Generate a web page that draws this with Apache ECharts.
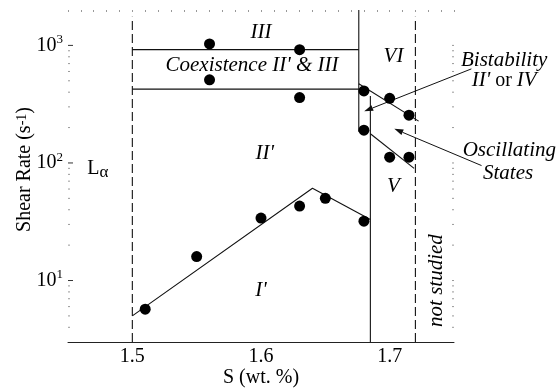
<!DOCTYPE html>
<html>
<head>
<meta charset="utf-8">
<script src="https://cdn.jsdelivr.net/npm/echarts@6/dist/echarts.min.js"></script>
<style>
  html, body { margin: 0; padding: 0; background: #fff; }
  #chart { width: 556px; height: 388px; }
</style>
</head>
<body>
<div id="chart"></div>
<script>
// Measured states: surfactant concentration S (wt. %) against shear rate (1/s)
const pointS    = [1.51, 1.55, 1.60, 1.63, 1.65, 1.68, 1.56, 1.63, 1.56, 1.63, 1.68, 1.70, 1.715, 1.68, 1.70, 1.715];
const pointRate = [5.7, 16, 34, 43, 50, 32, 1030, 920, 510, 360, 410, 355, 255, 190, 112, 112];

// Phase boundaries
const boundaryIS      = [1.5, 1.64, 1.685];
const boundaryIRate   = [5.0, 61, 33];
const coexTopS        = [1.5, 1.676];
const coexTopRate     = [920, 920];
const coexBottomS     = [1.5, 1.676];
const coexBottomRate  = [425, 425];
const wallAS          = [1.676, 1.676];
const wallARate       = [2000, 184];
const wallBS          = [1.685, 1.685];
const wallBRate       = [372, 3];
const slopeUpperS     = [1.676, 1.7225];
const slopeUpperRate  = [471, 227];
const slopeLowerS     = [1.685, 1.719];
const slopeLowerRate  = [177, 90];
const limitLeftS      = [1.5, 1.5];
const limitRightS     = [1.72, 1.72];
const limitRate       = [3, 1750];

// Region names
const labelText = [
  '{i|III}',
  "{i|Coexistence II' & III}",
  "{i|II'}",
  "{i|I'}",
  '{u|L}{sub|α}',
  '{i|VI}',
  '{i|V}',
  '{i|Bistability}',
  "{i|II'} {u|or} {i|IV}",
  '{i|Oscillating}',
  '{i|States}',
  '{i|not studied}'
];
const labelS    = [1.600, 1.593, 1.603, 1.600, 1.465, 1.703, 1.703, 1.789, 1.789, 1.793, 1.792, 1.7366];
const labelRate = [1300, 673, 120, 8.2, 89, 798, 62.6, 738, 499, 127, 81, 10];

// Pointer arrows: tail near a note, head at the marked state
const arrowTailS    = [1.7635, 1.7714];
const arrowTailRate = [631, 95];
const arrowHeadS    = [1.6802, 1.7036];
const arrowHeadRate = [275, 195];

// Axes
const S_MIN = 1.45, S_MAX = 1.75, S_STEP = 0.05, S_FINE = 0.01;
const RATE_MIN = 3, RATE_MAX = 2000;
const sTickLabels = [1.5, 1.6, 1.7];
const rateTickLabels = [10, 100, 1000];
const rateMinorTicks = [4, 5, 6, 7, 8, 9, 20, 30, 40, 50, 60, 70, 80, 90,
                        200, 300, 400, 500, 600, 700, 800, 900];

const FONT = '"Liberation Serif", "Times New Roman", serif';
const INK = '#111';

const pair = (xs, ys) => xs.map((x, i) => [x, ys[i]]);

function boundary(xs, ys, dashed) {
  return {
    type: 'line',
    data: pair(xs, ys),
    symbol: 'none',
    silent: true,
    z: 2,
    lineStyle: { color: INK, width: 1.1, type: dashed ? [9, 4] : 'solid' }
  };
}

const richStyles = {
  i:   { fontFamily: FONT, fontSize: 21, fontStyle: 'italic', fill: '#000', lineHeight: 24 },
  u:   { fontFamily: FONT, fontSize: 20, fontStyle: 'normal', fill: '#000', lineHeight: 24 },
  sub: { fontFamily: FONT, fontSize: 17, fontStyle: 'normal', fill: '#000', lineHeight: 14, verticalAlign: 'bottom' }
};

const chart = echarts.init(document.getElementById('chart'), null, { renderer: 'canvas' });

chart.setOption({
  animation: false,
  backgroundColor: '#fff',
  grid: { left: 68, right: 102, top: 10, bottom: 46, containLabel: false, outerBoundsMode: 'none' },
  xAxis: [
    {
      type: 'value',
      min: S_MIN, max: S_MAX, interval: S_STEP,
      name: 'S (wt. %)',
      nameLocation: 'middle',
      nameGap: 26,
      nameMoveOverlap: false,
      nameTextStyle: { fontFamily: FONT, fontSize: 20, color: '#000' },
      axisLine: { show: true, lineStyle: { color: '#222', width: 1 } },
      axisTick: { show: false },
      splitLine: { show: false },
      axisLabel: {
        fontFamily: FONT, fontSize: 20, color: '#000', margin: 5,
        formatter: v => {
          const hit = sTickLabels.find(t => Math.abs(t - v) < 1e-6);
          return hit === undefined ? '' : hit.toFixed(1);
        }
      }
    },
    {
      // dotted upper edge: one tick every 0.01
      type: 'value',
      position: 'top',
      min: S_MIN, max: S_MAX, interval: S_FINE,
      axisLine: { show: false },
      axisLabel: { show: false },
      splitLine: { show: false },
      axisTick: { show: true, inside: true, length: 2, lineStyle: { color: '#999', width: 1 } }
    }
  ],
  yAxis: {
    type: 'log',
    logBase: 10,
    min: RATE_MIN, max: RATE_MAX,
    name: 'Shear Rate (s{sup|-1})',
    nameLocation: 'middle',
    nameRotate: 90,
    nameGap: 33,
    nameMoveOverlap: false,
    nameTextStyle: {
      fontFamily: FONT, fontSize: 20, color: '#000',
      padding: [0, 0, 0, 13],
      rich: {
        sup: { fontFamily: FONT, fontSize: 14, color: '#000', verticalAlign: 'top', lineHeight: 14 }
      }
    },
    axisLine: { show: false },
    splitLine: { show: false },
    axisTick: { show: false },
    axisLabel: {
      margin: 5,
      color: '#000',
      formatter: v => {
        const hit = rateTickLabels.find(t => Math.abs(t - v) / t < 1e-6);
        return hit === undefined ? '' : '{b|10}{s|' + Math.round(Math.log10(hit)) + '}';
      },
      rich: {
        b: { fontFamily: FONT, fontSize: 20, color: '#000', lineHeight: 24 },
        s: { fontFamily: FONT, fontSize: 13, color: '#000', verticalAlign: 'top', lineHeight: 14 }
      }
    }
  },
  series: [
    // dotted side edges: decade sub-ticks on both vertical edges, short marks at the decades
    {
      type: 'custom',
      silent: true,
      clip: false,
      z: 1,
      data: rateMinorTicks.map(v => [S_MIN, v, 2]).concat(rateMinorTicks.map(v => [S_MAX, v, 2]))
        .concat(rateTickLabels.map(v => [S_MIN, v, 5])).concat(rateTickLabels.map(v => [S_MAX, v, 2])),
      renderItem: (params, api) => {
        const p = api.coord([api.value(0), api.value(1)]);
        const dir = api.value(0) === S_MIN ? 1 : -1;
        const len = api.value(2);
        return {
          type: 'line',
          shape: { x1: p[0], y1: p[1], x2: p[0] + dir * len, y2: p[1] },
          style: { stroke: len > 2 ? '#333' : '#999', lineWidth: 1 }
        };
      }
    },
    boundary(limitLeftS, limitRate, true),
    boundary(limitRightS, limitRate, true),
    boundary(boundaryIS, boundaryIRate, false),
    boundary(coexTopS, coexTopRate, false),
    boundary(coexBottomS, coexBottomRate, false),
    boundary(wallAS, wallARate, false),
    boundary(wallBS, wallBRate, false),
    boundary(slopeUpperS, slopeUpperRate, false),
    boundary(slopeLowerS, slopeLowerRate, false),
    {
      type: 'scatter',
      data: pair(pointS, pointRate),
      symbol: 'circle',
      symbolSize: 11,
      itemStyle: { color: '#000', opacity: 1 },
      z: 5
    },
    // pointer arrows
    {
      type: 'custom',
      silent: true,
      clip: false,
      z: 4,
      data: arrowTailS.map((s, i) => [s, arrowTailRate[i], arrowHeadS[i], arrowHeadRate[i]]),
      renderItem: (params, api) => {
        const a = api.coord([api.value(0), api.value(1)]);
        const b = api.coord([api.value(2), api.value(3)]);
        const ang = Math.atan2(b[1] - a[1], b[0] - a[0]);
        const len = 9, half = 3;
        const bx = b[0] - len * Math.cos(ang), by = b[1] - len * Math.sin(ang);
        const nx = -Math.sin(ang), ny = Math.cos(ang);
        return {
          type: 'group',
          children: [
            { type: 'line', shape: { x1: a[0], y1: a[1], x2: bx, y2: by }, style: { stroke: INK, lineWidth: 1 } },
            { type: 'polygon', shape: { points: [[b[0], b[1]], [bx + nx * half, by + ny * half], [bx - nx * half, by - ny * half]] }, style: { fill: INK } }
          ]
        };
      }
    },
    // region names
    {
      type: 'custom',
      silent: true,
      clip: false,
      z: 6,
      data: labelS.map((s, i) => [s, labelRate[i], i]),
      renderItem: (params, api) => {
        const i = api.value(2);
        const p = api.coord([api.value(0), api.value(1)]);
        const text = labelText[i];
        const vertical = text.indexOf('not studied') >= 0;
        const leftAligned = text.indexOf('{sub|') >= 0;
        return {
          type: 'text',
          x: p[0],
          y: p[1],
          rotation: vertical ? Math.PI / 2 : 0,
          style: {
            text: text,
            fontFamily: FONT,
            fontSize: 20,
            fill: '#000',
            align: leftAligned ? 'left' : 'center',
            verticalAlign: 'middle',
            rich: richStyles
          }
        };
      }
    }
  ]
});
</script>
</body>
</html>
